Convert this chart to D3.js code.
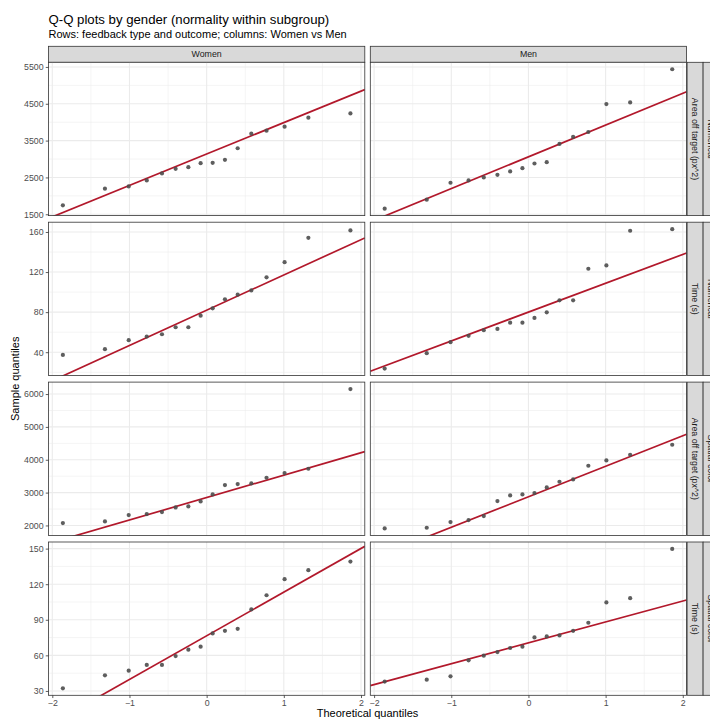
<!DOCTYPE html>
<html>
<head>
<meta charset="utf-8">
<script src="https://cdn.jsdelivr.net/npm/d3@7"></script>
<style>
    body { margin: 0; background: #fff; }
    text { font-family: "Liberation Sans", Arial, Helvetica, sans-serif; }
</style>
</head>
<body>
<div id="chart-area"></div>
<script>
// Facets
let genders = ["Women", "Men"];
let feedbackTypes = ["Numerical", "Numerical", "Spatial color", "Spatial color"];
let outcomes = ["Area off target (px^2)", "Time (s)", "Area off target (px^2)", "Time (s)"];

// Theoretical normal quantiles for n = 16 (x of each point)
let theoretical = [-1.863, -1.318, -1.010, -0.776, -0.579, -0.402, -0.237, -0.078,
    0.078, 0.237, 0.402, 0.579, 0.776, 1.010, 1.318, 1.863];

// Sorted sample values
let womenAreaNumerical = [1743, 2194, 2257, 2419, 2608, 2734, 2779, 2887, 2896, 2977, 3293, 3689, 3770, 3878, 4122, 4239];
let menAreaNumerical = [1653, 1896, 2356, 2419, 2500, 2572, 2662, 2752, 2878, 2914, 3410, 3599, 3734, 4491, 4536, 5437];
let womenTimeNumerical = [37.3, 43, 52, 55.6, 57.9, 64.9, 64.9, 76.5, 83.8, 92.8, 97.4, 101.7, 114.7, 129.9, 154.2, 161.5];
let menTimeNumerical = [23.7, 39, 50, 56.3, 61.9, 63.2, 69.5, 69.5, 74.2, 79.8, 91.8, 91.8, 123.3, 126.6, 161.2, 162.8];
let womenAreaSpatial = [2071, 2122, 2315, 2345, 2406, 2548, 2579, 2731, 2944, 3228, 3259, 3279, 3452, 3594, 3726, 6152];
let menAreaSpatial = [1909, 1929, 2102, 2162, 2284, 2741, 2914, 2944, 2985, 3157, 3330, 3401, 3817, 3980, 4152, 4457];
let womenTimeSpatial = [32.2, 43.2, 47.1, 51.9, 51.9, 59.4, 64.8, 67.3, 78.5, 80.7, 82.4, 98.7, 110.7, 124.2, 131.8, 139.1];
let menTimeSpatial = [37.9, 39.5, 42.3, 55.8, 59.7, 62.8, 66.2, 67.3, 75.1, 76.0, 76.8, 80.7, 87.5, 104.6, 108.2, 149.7];

// Reference line per panel (intercept, slope), rows x [Women, Men]
let lineIntercepts = [[3136, 3059], [81.9, 80.0], [2849, 2873], [76.5, 70.6]];
let lineSlopes = [[853, 862.5], [35.2, 28.8], [682.6, 929], [36.8, 17.6]];

// Tick labels
let xTicks = [-2, -1, 0, 1, 2];
let xMinor = [-1.5, -0.5, 0.5, 1.5];
let yTicks = [[1500, 2500, 3500, 4500, 5500], [40, 80, 120, 160], [2000, 3000, 4000, 5000, 6000], [30, 60, 90, 120, 150]];
let yMinor = [[2000, 3000, 4000, 5000], [20, 60, 100, 140], [2500, 3500, 4500, 5500], [45, 75, 105, 135]];

let samples = [
    [womenAreaNumerical, menAreaNumerical],
    [womenTimeNumerical, menTimeNumerical],
    [womenAreaSpatial, menAreaSpatial],
    [womenTimeSpatial, menTimeSpatial]
];

let width = 710, height = 719;
let panelLeft = 48.5, panelW = 316.3, colGap = 5.5;
let panelTop = 62.3, panelH = 153.3, rowGap = 6.6;
let stripH = 16;

let svg = d3.select("#chart-area")
    .append("svg")
    .attr("width", width)
    .attr("height", height);

// title + subtitle
svg.append("text")
    .attr("x", panelLeft)
    .attr("y", 24)
    .attr("font-size", 13.2)
    .attr("fill", "#000")
    .text("Q-Q plots by gender (normality within subgroup)");

svg.append("text")
    .attr("x", panelLeft)
    .attr("y", 37.5)
    .attr("font-size", 11)
    .attr("fill", "#000")
    .text("Rows: feedback type and outcome; columns: Women vs Men");

// x scale: data range + 5% expansion
let xExt = d3.extent(theoretical);
let xPad = (xExt[1] - xExt[0]) * 0.05;

let defs = svg.append("defs");

genders.forEach(function(g, c) {
    let x0 = panelLeft + c * (panelW + colGap);

    // top strip
    svg.append("rect")
        .attr("x", x0)
        .attr("y", panelTop - stripH)
        .attr("width", panelW)
        .attr("height", stripH)
        .attr("fill", "#d9d9d9")
        .attr("stroke", "#333")
        .attr("stroke-width", 0.8);
    svg.append("text")
        .attr("x", x0 + panelW / 2)
        .attr("y", panelTop - stripH / 2)
        .attr("dy", "0.35em")
        .attr("text-anchor", "middle")
        .attr("font-size", 8.8)
        .attr("fill", "#1a1a1a")
        .text(g);
});

outcomes.forEach(function(outcome, r) {
    let y0 = panelTop + r * (panelH + rowGap);

    // y scale shared across the row
    let allVals = samples[r][0].concat(samples[r][1]);
    let yExt = d3.extent(allVals);
    let yPad = (yExt[1] - yExt[0]) * 0.05;
    let y = d3.scaleLinear()
        .domain([yExt[0] - yPad, yExt[1] + yPad])
        .range([y0 + panelH, y0]);

    genders.forEach(function(g, c) {
        let x0 = panelLeft + c * (panelW + colGap);
        let x = d3.scaleLinear()
            .domain([xExt[0] - xPad, xExt[1] + xPad])
            .range([x0, x0 + panelW]);

        let panel = svg.append("g");

        panel.append("rect")
            .attr("x", x0).attr("y", y0)
            .attr("width", panelW).attr("height", panelH)
            .attr("fill", "#fff");

        // minor grid
        panel.selectAll(".ymin").data(yMinor[r]).enter()
            .append("line")
            .attr("x1", x0).attr("x2", x0 + panelW)
            .attr("y1", function(d) { return y(d); })
            .attr("y2", function(d) { return y(d); })
            .attr("stroke", "#ebebeb").attr("stroke-width", 0.55);
        panel.selectAll(".xmin").data(xMinor).enter()
            .append("line")
            .attr("y1", y0).attr("y2", y0 + panelH)
            .attr("x1", function(d) { return x(d); })
            .attr("x2", function(d) { return x(d); })
            .attr("stroke", "#ebebeb").attr("stroke-width", 0.55);

        // major grid
        panel.selectAll(".ymaj").data(yTicks[r]).enter()
            .append("line")
            .attr("x1", x0).attr("x2", x0 + panelW)
            .attr("y1", function(d) { return y(d); })
            .attr("y2", function(d) { return y(d); })
            .attr("stroke", "#ebebeb").attr("stroke-width", 1.1);
        panel.selectAll(".xmaj").data(xTicks).enter()
            .append("line")
            .attr("y1", y0).attr("y2", y0 + panelH)
            .attr("x1", function(d) { return x(d); })
            .attr("x2", function(d) { return x(d); })
            .attr("stroke", "#ebebeb").attr("stroke-width", 1.1);

        // clip for the reference line
        let clipId = "clip-" + r + "-" + c;
        defs.append("clipPath").attr("id", clipId)
            .append("rect")
            .attr("x", x0).attr("y", y0)
            .attr("width", panelW).attr("height", panelH);

        let a = lineIntercepts[r][c], b = lineSlopes[r][c];
        let xd = x.domain();
        panel.append("line")
            .attr("clip-path", "url(#" + clipId + ")")
            .attr("x1", x(xd[0])).attr("y1", y(a + b * xd[0]))
            .attr("x2", x(xd[1])).attr("y2", y(a + b * xd[1]))
            .attr("stroke", "#b2182b")
            .attr("stroke-width", 1.7);

        // points
        panel.selectAll("circle")
            .data(samples[r][c])
            .enter()
            .append("circle")
            .attr("cx", function(d, i) { return x(theoretical[i]); })
            .attr("cy", function(d) { return y(d); })
            .attr("r", 2.1)
            .attr("fill", "#4d4d4d")
            .attr("fill-opacity", 0.9);

        // border
        panel.append("rect")
            .attr("x", x0).attr("y", y0)
            .attr("width", panelW).attr("height", panelH)
            .attr("fill", "none")
            .attr("stroke", "#333")
            .attr("stroke-width", 0.8);

        // y axis on first column only
        if (c === 0) {
            let yAxis = d3.axisLeft(y)
                .tickValues(yTicks[r])
                .tickSize(2.75)
                .tickPadding(2.2)
                .tickFormat(d3.format("d"));
            let ga = svg.append("g")
                .attr("transform", "translate(" + x0 + ",0)")
                .call(yAxis);
            ga.select(".domain").remove();
            ga.selectAll(".tick line").attr("stroke", "#333").attr("stroke-width", 0.8);
            ga.selectAll(".tick text")
                .attr("font-size", 8.8)
                .attr("fill", "#4d4d4d")
                .attr("font-family", "Liberation Sans, Arial, sans-serif");
        }

        // x axis on bottom row only
        if (r === outcomes.length - 1) {
            let xAxis = d3.axisBottom(x)
                .tickValues(xTicks)
                .tickSize(2.75)
                .tickPadding(2.2)
                .tickFormat(d3.format("d"));
            let gx = svg.append("g")
                .attr("transform", "translate(0," + (y0 + panelH) + ")")
                .call(xAxis);
            gx.select(".domain").remove();
            gx.selectAll(".tick line").attr("stroke", "#333").attr("stroke-width", 0.8);
            gx.selectAll(".tick text")
                .attr("font-size", 8.8)
                .attr("fill", "#4d4d4d")
                .attr("font-family", "Liberation Sans, Arial, sans-serif");
        }
    });

    // right strips: outcome (inner) and feedback type (outer)
    let sx = panelLeft + 2 * panelW + colGap + 0.5;
    [outcome, feedbackTypes[r]].forEach(function(lab, k) {
        let xs = sx + k * stripH;
        svg.append("rect")
            .attr("x", xs).attr("y", y0)
            .attr("width", stripH).attr("height", panelH)
            .attr("fill", "#d9d9d9")
            .attr("stroke", "#333")
            .attr("stroke-width", 0.8);
        svg.append("text")
            .attr("transform", "translate(" + (xs + stripH / 2) + "," + (y0 + panelH / 2) + ") rotate(90)")
            .attr("dy", "0.35em")
            .attr("text-anchor", "middle")
            .attr("font-size", 8.8)
            .attr("fill", "#1a1a1a")
            .text(lab);
    });
});

// axis titles
let plotBottom = panelTop + 4 * panelH + 3 * rowGap;
svg.append("text")
    .attr("x", panelLeft + panelW + colGap / 2)
    .attr("y", 717)
    .attr("text-anchor", "middle")
    .attr("font-size", 11)
    .attr("fill", "#000")
    .text("Theoretical quantiles");

svg.append("text")
    .attr("transform", "translate(18.5," + ((panelTop + plotBottom) / 2) + ") rotate(-90)")
    .attr("text-anchor", "middle")
    .attr("font-size", 11)
    .attr("fill", "#000")
    .text("Sample quantiles");
</script>
</body>
</html>
